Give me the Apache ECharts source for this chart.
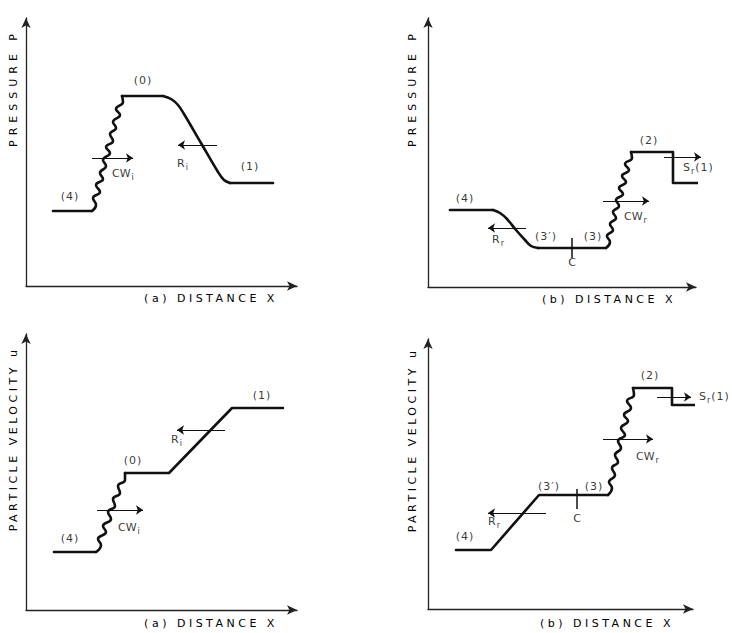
<!DOCTYPE html>
<html><head><meta charset="utf-8">
<script src="https://cdn.jsdelivr.net/npm/echarts@6/dist/echarts.min.js"></script>
<style>html,body{margin:0;padding:0;background:#fff}#c{width:732px;height:633px}</style>
</head><body><div id="c"></div>
<script>
// ---------- DATA (schematic units) ----------
// (a) pressure vs distance
const pA_state4   = [[27,75],[66,75]];
const pA_wave     = [[66,75],[70,81],[67,88],[74,94],[70,101],[77,107],[74,113],[80,120],[77,126],[84,133],[80,139],[87,145],[84,152],[90,158],[87,164],[94,171],[90,177],[97,184],[96,190]];
const pA_state0   = [[96,190],[137,190]];
const pA_fan      = [[137,190],[145,187],[152,181],[158,172],[175,143],[192,114],[198,106],[204,103]];
const pA_state1   = [[204,103],[247,103]];
const pA_arrows   = [[[66,128],[107,128]],[[191,141],[152,141]]];
const pA_states   = [['(4)',44,90],['(0)',117,206],['(1)',224,120]];
const pA_waves    = [['CW','i','',86,113],['R','i','',151,123]];

// (b) pressure vs distance
const pB_state4   = [[22,77],[65,77]];
const pB_fan      = [[65,77],[72,74],[79,68],[88,57],[97,47],[103,41],[110,39]];
const pB_state3   = [[110,39],[178,39]];
const pB_wave     = [[178,39],[182,45],[179,51],[185,57],[182,63],[188,69],[185,75],[191,81],[188,87],[195,93],[191,99],[198,105],[194,111],[201,117],[197,123],[204,129],[203,135]];
const pB_state21  = [[203,135],[245,135],[245,104],[281,104]];
const pB_arrows   = [[[175,86],[221,86]],[[98,59],[60,59]],[[236,130],[273,130]]];
const pB_contact  = [[144,49],[144,29]];
const pB_states   = [['(4)',37,89],['(3\u2032)',118,51],['(3)',165,51],['(2)',221,147],['C',144,25]];
const pB_waves    = [['S','r','(1)',255,120],['CW','r','',196,71],['R','r','',64,48]];

// (a) particle velocity vs distance
const uA_state4   = [[28,58],[70,58]];
const uA_wave     = [[70,58],[75,65],[72,71],[80,78],[77,84],[85,91],[82,98],[89,104],[87,111],[94,117],[92,124],[99,130],[99,137]];
const uA_state01  = [[99,137],[143,137],[206,202],[257,202]];
const uA_arrows   = [[[71,100],[117,100]],[[199,180],[151,180]]];
const uA_states   = [['(4)',44,72],['(0)',107,150],['(1)',236,215]];
const uA_waves    = [['R','i','',145,171],['CW','i','',92,83]];

// (b) particle velocity vs distance
const uB_state43  = [[28,59],[63,59],[111,114],[180,114]];
const uB_wave     = [[180,114],[184,121],[181,127],[187,134],[184,141],[190,147],[187,154],[193,161],[190,168],[197,174],[193,181],[200,188],[196,194],[203,201],[199,208],[206,214],[205,221]];
const uB_state21  = [[205,221],[244,221],[244,204],[285,204]];
const uB_arrows   = [[[175,170],[225,170]],[[118,96],[60,96]],[[229,212],[263,212]]];
const uB_contact  = [[149,120],[149,100]];
const uB_states   = [['(4)',37,73],['(3\u2032)',121,123],['(3)',166,123],['(2)',222,234],['C',149,91]];
const uB_waves    = [['S','r','(1)',271,213],['CW','r','',208,153],['R','r','',60,88]];

const yTitles = ['PRESSURE P','PRESSURE P','PARTICLE VELOCITY u','PARTICLE VELOCITY u'];
const xTitles = ['(a) DISTANCE X','(b) DISTANCE X','(a) DISTANCE X','(b) DISTANCE X'];

// ---------- LAYOUT ----------
const FONT = 'DejaVu Sans';
const INK = '#000';
const panels = [
  {origin:[26,286], xMax:271, yMax:268, straight:[pA_state4,pA_state0,pA_state1], smooth:[[pA_wave,0.5],[pA_fan,0.35]], arrows:pA_arrows, ticks:[], states:pA_states, waves:pA_waves, yt:[13,88], xt:[211,298]},
  {origin:[428,287], xMax:268, yMax:269, straight:[pB_state4,pB_state3,pB_state21], smooth:[[pB_wave,0.5],[pB_fan,0.35]], arrows:pB_arrows, ticks:[pB_contact], states:pB_states, waves:pB_waves, yt:[412,88], xt:[609,299]},
  {origin:[26,610], xMax:271, yMax:276, straight:[uA_state4,uA_state01], smooth:[[uA_wave,0.5]], arrows:uA_arrows, ticks:[], states:uA_states, waves:uA_waves, yt:[13,439], xt:[211,623]},
  {origin:[428,609], xMax:265, yMax:270, straight:[uB_state43,uB_state21], smooth:[[uB_wave,0.5]], arrows:uB_arrows, ticks:[uB_contact], states:uB_states, waves:uB_waves, yt:[412,440], xt:[607,623]}
];

const axisLine = {show:true, onZero:false, symbol:['none','arrow'], symbolSize:[7,10], lineStyle:{color:'#222', width:1.3}};
const grid=[], xAxis=[], yAxis=[], series=[], graphic=[];
const curveStyle = {color:'#111', width:2.6, cap:'round', join:'round'};

panels.forEach((p,i)=>{
  grid.push({left:p.origin[0], top:p.origin[1]-p.yMax, width:p.xMax, height:p.yMax, containLabel:false});
  xAxis.push({type:'value', gridIndex:i, min:0, max:p.xMax, axisLine, axisTick:{show:false}, axisLabel:{show:false}, splitLine:{show:false}});
  yAxis.push({type:'value', gridIndex:i, min:0, max:p.yMax, axisLine, axisTick:{show:false}, axisLabel:{show:false}, splitLine:{show:false}});
  p.straight.forEach(d=>series.push({type:'line', xAxisIndex:i, yAxisIndex:i, data:d, symbol:'none', clip:false, silent:true, lineStyle:curveStyle}));
  p.smooth.forEach(([d,s])=>series.push({type:'line', xAxisIndex:i, yAxisIndex:i, data:d, smooth:s, symbol:'none', clip:false, silent:true, lineStyle:curveStyle}));
  series.push({type:'lines', coordinateSystem:'cartesian2d', xAxisIndex:i, yAxisIndex:i, clip:false, silent:true,
    data:p.arrows.map(a=>({coords:a})), symbol:['none','arrow'], symbolSize:7,
    lineStyle:{color:'#111', width:1.2, opacity:1, curveness:0}});
  if (p.ticks.length) series.push({type:'lines', coordinateSystem:'cartesian2d', xAxisIndex:i, yAxisIndex:i, clip:false, silent:true,
    data:p.ticks.map(a=>({coords:a})), symbol:'none', lineStyle:{color:'#111', width:1.5, opacity:1}});
  series.push({type:'scatter', xAxisIndex:i, yAxisIndex:i, symbolSize:1, clip:false, silent:true, itemStyle:{color:'rgba(0,0,0,0)'},
    data:p.states.map(s=>({value:[s[1],s[2]], name:s[0]})),
    label:{show:true, position:'inside', formatter:q=>q.name, color:INK, fontSize:11, fontFamily:FONT, align:'center', verticalAlign:'middle'}});
  series.push({type:'scatter', xAxisIndex:i, yAxisIndex:i, symbolSize:1, clip:false, silent:true, itemStyle:{color:'rgba(0,0,0,0)'},
    data:p.waves.map(s=>({value:[s[3],s[4]], name:'{m|'+s[0]+'}{s|'+s[1]+'}'+(s[2]?'{m|'+s[2]+'}':'')})),
    label:{show:true, position:'inside', formatter:q=>q.name, color:INK, align:'left', verticalAlign:'middle',
      rich:{m:{fontSize:11, fontFamily:FONT, color:INK}, s:{fontSize:8, fontFamily:FONT, color:INK, padding:[9,1,0,1]}}}});
  graphic.push({type:'text', x:p.yt[0], y:p.yt[1], rotation:Math.PI/2, silent:true,
    style:{text:yTitles[i], fill:INK, fontSize:11, fontFamily:FONT, align:'center', verticalAlign:'middle', textAlign:'center', textVerticalAlign:'middle'}});
  graphic.push({type:'text', x:p.xt[0], y:p.xt[1], silent:true,
    style:{text:xTitles[i], fill:INK, fontSize:11, fontFamily:FONT, align:'center', verticalAlign:'middle', textAlign:'center', textVerticalAlign:'middle'}});
});

const chart = echarts.init(document.getElementById('c'), null, {renderer:'svg'});
chart.setOption({backgroundColor:'#fff', animation:false, grid, xAxis, yAxis, series, graphic});

function spacing(){
  document.querySelectorAll('#c svg text').forEach(t=>{
    const s = t.textContent;
    if (s==='PRESSURE P') t.setAttribute('letter-spacing','5');
    else if (s==='PARTICLE VELOCITY u') t.setAttribute('letter-spacing','3.5');
    else if (s.indexOf('DISTANCE')>=0) t.setAttribute('letter-spacing','3.5');
    else if (/^\(\d/.test(s)) t.setAttribute('letter-spacing','1');
  });
}
chart.on('finished', spacing);
spacing();
setTimeout(spacing, 50);
</script></body></html>
